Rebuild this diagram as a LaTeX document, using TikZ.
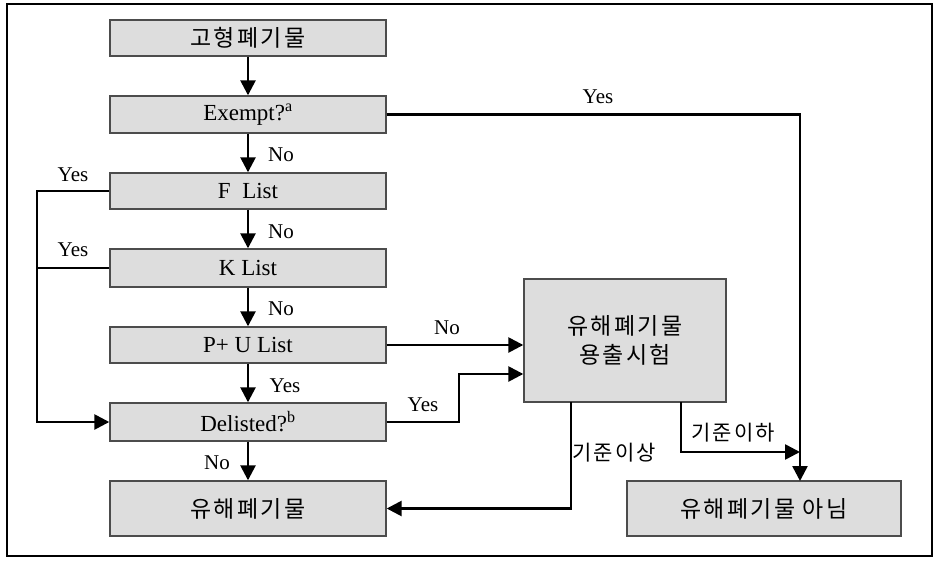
\documentclass[tikz,border=0pt]{standalone}
\usepackage{fontspec}
\setmainfont{Liberation Serif}
\newfontfamily\kfont[LetterSpace=10]{Noto Sans CJK KR}
\usepackage{tikz}
\usetikzlibrary{arrows.meta}
\usetikzlibrary{calc}

\tikzset{
	box/.style={draw=gray!60!black,fill=gray!27,line width=1.4pt,minimum width=276pt,minimum height=37pt,inner sep=0pt,font=\fontsize{23}{25}\selectfont},
	kbox/.style={box,font=\kfont\fontsize{23}{29}\selectfont},
	lbl/.style={font=\fontsize{21}{23}\selectfont,inner sep=0pt},
	klbl/.style={font=\kfont\fontsize{21}{23}\selectfont,inner sep=0pt},
	flow/.style={line width=2.6pt,-{Triangle[length=15pt,width=15pt]}},
	line/.style={line width=2.2pt},
}

\begin{document}
\begin{tikzpicture}[x=1pt,y=-1pt]
			\useasboundingbox (0,0) rectangle (940,562);
			%frame
			\draw[line width=2.8pt] (7,4) rectangle (932,556);
			%left column of checks
			\node[kbox,minimum height=36pt] (solid) at (248,38) {고형폐기물};
			\node[box] (exempt) at (248,114.5) {Exempt?\textsuperscript{a}};
			\node[box,minimum height=36pt] (flist) at (248,191) {F\ \ List};
			\node[box,minimum height=38pt] (klist) at (248,268) {K List};
			\node[box,minimum height=36pt] (pulist) at (248,345) {P+ U List};
			\node[box,minimum height=38pt] (delisted) at (248,422) {Delisted?\textsuperscript{b}};
			\node[kbox,minimum height=55pt] (hazard) at (248,508.5) {유해폐기물};
			%right side
			\node[kbox,minimum width=202pt,minimum height=123pt,align=center] (tclp) at (625,340.5) {유해폐기물\\용출시험};
			\node[kbox,minimum width=274pt,minimum height=55pt] (nonhaz) at (764,508.5) {유해폐기물 아님};
			%helper points
			\coordinate (bus) at (37,191);
			\coordinate (nhin) at (800,481);
			\coordinate (dturn) at (459,374);
			\coordinate (hiout) at (571,402);
			\coordinate (loout) at (681,402);
			\coordinate (lojoin) at (800,452);
			%down the column
			\draw[flow] (solid) -- (exempt);
			\draw[flow] (exempt) -- (flist);
			\draw[flow] (flist) -- (klist);
			\draw[flow] (klist) -- (pulist);
			\draw[flow] (pulist) -- (delisted);
			\draw[flow] (delisted) -- (hazard);
			%yes branches
			\draw[flow] (exempt.east) -| (nhin);
			\draw[flow] (flist.west) -- (bus) |- (delisted.west);
			\draw[line] (klist.west) -- (klist.west -| bus);
			\draw[flow] (pulist.east) -- (pulist.east -| tclp.west);
			\draw[flow] (delisted.east) -| (dturn) -- (dturn -| tclp.west);
			\draw[flow] (hiout) |- (hazard.east);
			\draw[flow] (loout) |- (lojoin);
			%labels
			\node[lbl] (l1) at (281,155) {No};
			\node[lbl] (l2) at (281,232) {No};
			\node[lbl] (l3) at (281,309) {No};
			\node[lbl] (l4) at (285,386) {Yes};
			\node[lbl] (l5) at (217,463) {No};
			\node[lbl] (l6) at (73,175) {Yes};
			\node[lbl] (l7) at (73,250) {Yes};
			\node[lbl] (l8) at (598,97) {Yes};
			\node[lbl] (l9) at (447,328) {No};
			\node[lbl] (l10) at (423,405) {Yes};
			\node[klbl] (l11) at (614,453) {기준이상};
			\node[klbl] (l12) at (733,433) {기준이하};
\end{tikzpicture}
\end{document}
